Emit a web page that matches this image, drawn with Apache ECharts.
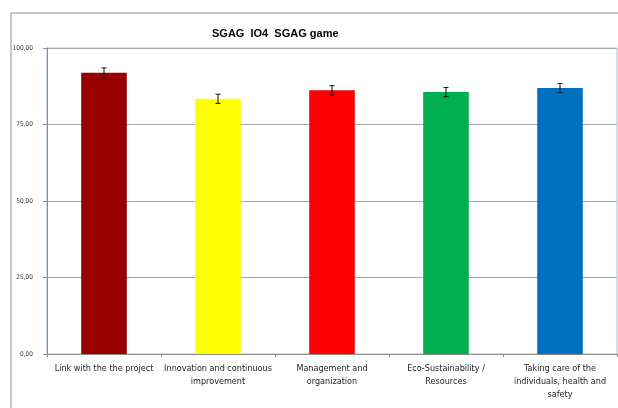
<!DOCTYPE html>
<html style="height:100%">
<meta charset="utf-8" />
<title>SGAG IO4 SGAG game</title>
<script src="https://cdn.jsdelivr.net/npm/echarts@6/dist/echarts.min.js"></script>
<body style="margin:0;height:100%;width:100%;background:#fff">
<div id="chartmain" style="width:618px;height:408px;"></div>
<script type="text/javascript">

    var categories = [
        'Link with the the project',
        'Innovation and continuous\nimprovement',
        'Management and\norganization',
        'Eco-Sustainability /\nResources',
        'Taking care of the\nindividuals, health and\nsafety'
    ];
    var values = [91.9, 83.4, 86.2, 85.6, 86.9];
    var errors = [1.6, 1.5, 1.5, 1.5, 1.5];
    var barColors = ['#990000', '#ffff00', '#ff0000', '#00b050', '#0070c0'];
    var yTicks = [0, 25, 50, 75, 100];

    var narrow = "'Liberation Sans Narrow', 'DejaVu Sans Condensed', 'Liberation Sans', sans-serif";

    var myChart = echarts.init(document.getElementById('chartmain'));

    var barData = values.map(function (v, i) {
        return { value: v, itemStyle: { color: barColors[i] } };
    });
    var errData = values.map(function (v, i) {
        return [i, v - errors[i], v + errors[i]];
    });

    var option = {
        backgroundColor: '#ffffff',
        animation: false,
        graphic: [{
            type: 'rect',
            shape: { x: 11, y: 13, width: 700, height: 500 },
            style: { fill: 'none', stroke: '#c6c6c6', lineWidth: 2 },
            z: -1
        }],
        title: {
            text: 'SGAG  IO4  SGAG game',
            left: 207,
            top: 23,
            textStyle: { fontFamily: 'Liberation Sans, sans-serif', fontSize: 11, fontWeight: 'bold', color: '#000' }
        },
        grid: {
            left: 47, right: 1, top: 48, bottom: 54,
            show: true,
            borderColor: '#a9bdd2',
            borderWidth: 1
        },
        xAxis: {
            type: 'category',
            data: categories,
            axisLine: { lineStyle: { color: '#8c8c8c' } },
            axisTick: { show: true, length: 3, lineStyle: { color: '#8c8c8c' } },
            axisLabel: {
                interval: 0,
                margin: 8,
                fontFamily: narrow,
                fontSize: 9,
                lineHeight: 13,
                color: '#222'
            }
        },
        yAxis: {
            type: 'value',
            min: 0,
            max: 100,
            interval: 25,
            axisLine: { show: true, lineStyle: { color: '#8c8c8c' } },
            axisTick: { show: true, length: 4, lineStyle: { color: '#8c8c8c' } },
            splitLine: { lineStyle: { color: '#a8a8a8' } },
            axisLabel: {
                margin: 14,
                fontFamily: narrow,
                fontSize: 6.5,
                color: '#333',
                formatter: function (v) {
                    return yTicks.indexOf(v) >= 0 ? v.toFixed(2).replace('.', ',') : '';
                }
            }
        },
        series: [{
            type: 'bar',
            data: barData,
            barWidth: '40%'
        }, {
            type: 'custom',
            data: errData,
            z: 5,
            renderItem: function (params, api) {
                var x = api.coord([api.value(0), api.value(1)])[0];
                var lo = api.coord([api.value(0), api.value(1)])[1];
                var hi = api.coord([api.value(0), api.value(2)])[1];
                var w = 2.5;
                var s = { stroke: '#111', lineWidth: 1 };
                return {
                    type: 'group',
                    children: [
                        { type: 'line', shape: { x1: x, y1: lo, x2: x, y2: hi }, style: s },
                        { type: 'line', shape: { x1: x - w, y1: lo, x2: x + w, y2: lo }, style: s },
                        { type: 'line', shape: { x1: x - w, y1: hi, x2: x + w, y2: hi }, style: s }
                    ]
                };
            }
        }]
    };
    myChart.setOption(option);
</script>
</body>
</html>
